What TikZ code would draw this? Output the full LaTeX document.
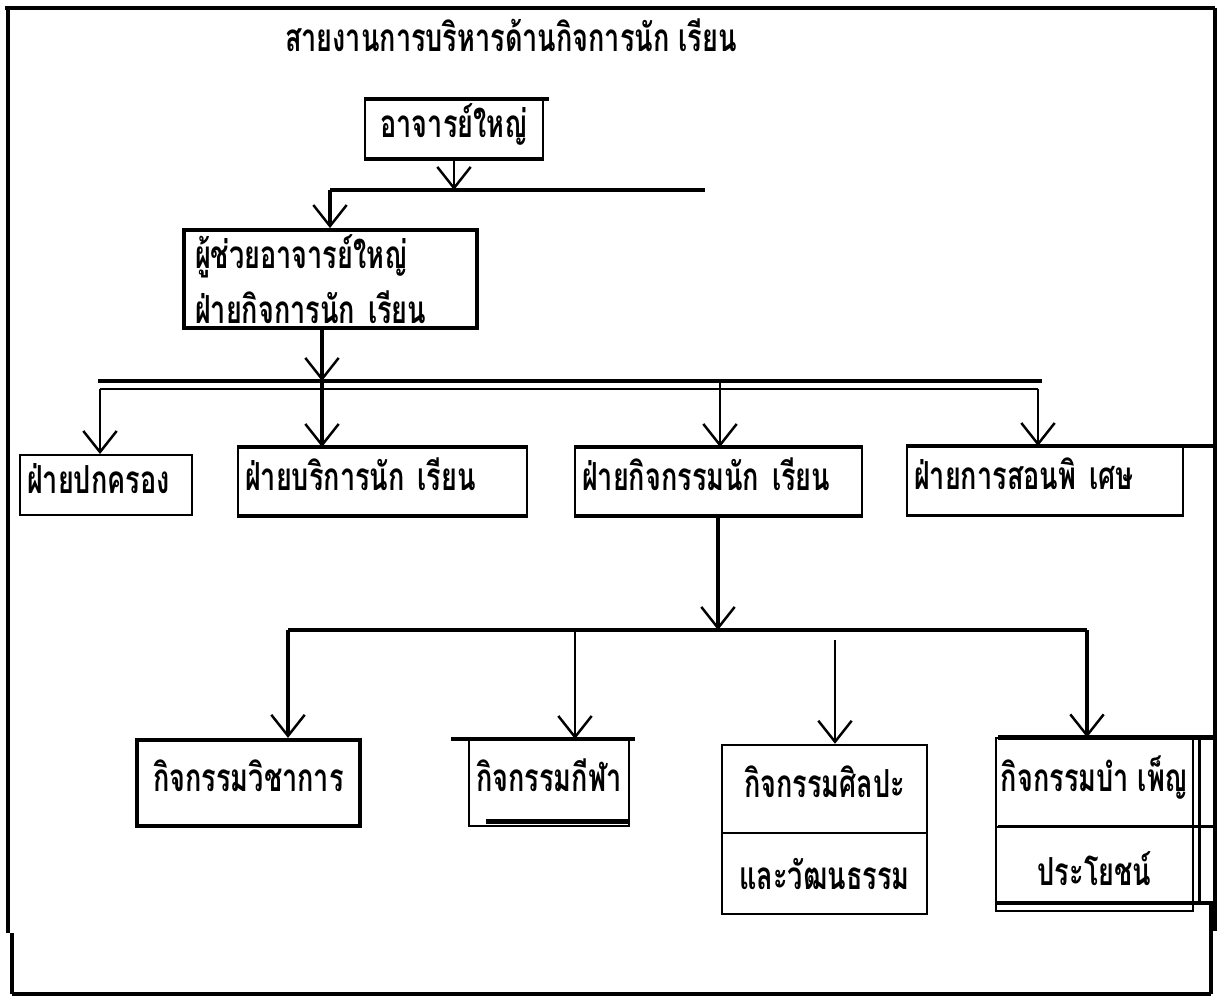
\documentclass[tikz,border=0pt]{standalone}
\usepackage{fontspec}
\newfontfamily\thai[Script=Thai,FakeStretch=0.7]{Loma}
\usetikzlibrary{arrows.meta,shapes.multipart}
\begin{document}
\begin{tikzpicture}[x=0.02cm,y=-0.02cm,
  font=\thai\bfseries\fontsize{22}{25}\selectfont,
  thk/.style={line width=2.6pt},
  med/.style={line width=1.7pt},
  thn/.style={line width=1.1pt},
  arr/.style={-{Straight Barb[length=12pt,width=19pt,line width=1.4pt]}},
  bx/.style={draw,line width=1.1pt,inner xsep=0.14cm,inner ysep=0pt,text height=16pt,text depth=6pt},
  sbox/.style={draw,line width=1.1pt,rectangle split,rectangle split parts=2,
     inner xsep=0.1cm,inner ysep=13.6pt,text height=16pt,text depth=6pt,align=center}]
\useasboundingbox (0,0) rectangle (1221,997);
% outer frame
\draw[line width=2.8pt] (5,8) -- (1215,8);
\draw[line width=2.8pt] (8,8) -- (8,933);
\draw[line width=2.8pt] (12,933) -- (12,994);
\draw[line width=2pt] (12,994) -- (1211,994);
\draw[line width=1.8pt] (1215,8) -- (1215,931);
\coordinate (frR) at (1215,0);
% title
\node (title) at (511,35) {สายงานการบริหารด้านกิจการนัก เรียน};
% boxes
\node[bx,minimum width=3.56cm,minimum height=1.16cm] (A) at (454,129) {อาจารย์ใหญ่};
\node[bx,line width=2.2pt,text width=5.42cm,align=left,minimum height=1.96cm,text height=,text depth=,inner xsep=0.22cm] (B) at (330.5,279) {ผู้ช่วยอาจารย์ใหญ่\\[6pt]ฝ่ายกิจการนัก เรียน};
\node[bx,text width=3.16cm,align=left,minimum height=1.2cm] (C1) at (106,485) {ฝ่ายปกครอง};
\node[bx,text width=5.5cm,align=left,minimum height=1.34cm] (C2) at (382.5,481.5) {ฝ่ายบริการนัก เรียน};
\node[bx,text width=5.46cm,align=left,minimum height=1.34cm] (C3) at (718.5,481.5) {ฝ่ายกิจกรรมนัก เรียน};
\node[bx,text width=5.24cm,align=left,minimum height=1.36cm] (C4) at (1045,481) {ฝ่ายการสอนพิ เศษ};
\node[bx,line width=2.4pt,minimum width=4.46cm,minimum height=1.72cm] (D1) at (248.5,783) {กิจกรรมวิชาการ};
\node[bx,minimum width=2.84cm,minimum height=1.72cm] (D2) at (549,783) {กิจกรรมกีฬา};
\node[sbox,minimum width=4.1cm] (D3) at (824.5,829.5) {กิจกรรมศิลปะ\nodepart{two}และวัฒนธรรม};
\node[sbox,minimum width=3.9cm] (D4) at (1094.5,824.5) {กิจกรรมบำ เพ็ญ\nodepart{two}ประโยชน์};
% thick box edges
\draw[thk] (A.north west) -- ([xshift=3pt]A.north east);
\draw[thk] (A.south west) -- (A.south east);
\draw[thk] (C2.north west) -- (C2.north east);
\draw[thk] (C2.south west) -- (C2.south east);
\draw[thk] (C3.north west) -- (C3.north east);
\draw[thk] (C3.south west) -- (C3.south east);
\draw[thk] (C4.north west) -- (C4.north west -| frR);
\draw[med] (C4.south west) -- (C4.south east);
\draw[thk] ([xshift=-10pt]D2.north west) -- ([xshift=3pt]D2.north east);
\draw[thk] ([xshift=10pt,yshift=3pt]D2.south west) -- ([yshift=3pt]D2.south east);
\draw[thk] ([xshift=2pt]D4.north west) -- (D4.north west -| frR);
\draw[med] ([xshift=2pt]D4.text split west) -- (D4.text split west -| frR);
\draw[line width=1.5pt] ([xshift=3pt]D4.north east) -- ([xshift=3pt,yshift=5pt]D4.south east);
\coordinate (brc) at (1211,994);
\draw[thk] ([yshift=5pt]D4.south west) -- ([yshift=5pt]D4.south west -| brc) -- (brc);
% bus 1
\coordinate (b1L) at (330,190);
\coordinate (b1R) at (705,190);
\draw[thk] (b1L) -- (b1R);
\draw[thn,arr] (A.south) -- (A.south |- b1L);
\draw[thk,arr] (b1L) -- (b1L |- B.north);
% bus 2
\coordinate (b2L) at (98,381);
\coordinate (b2R) at (1042,381);
\coordinate (b2m) at (322,381);
\coordinate (b2c) at (720,381);
\coordinate (b2aL) at (100,389);
\coordinate (b2aR) at (1038,389);
\draw[thk] (b2L) -- (b2R);
\draw[thn] (b2aL) -- (b2aR);
\draw[thk,arr] (B.south -| b2m) -- (b2m);
\draw[thk,arr] (b2m) -- (b2m |- C2.north);
\draw[thn,arr] (b2aL) -- (b2aL |- C1.north);
\draw[thn,arr] (b2c) -- (b2c |- C3.north);
\draw[thn,arr] (b2aR) -- (b2aR |- C4.north);
% bus 3
\coordinate (b3L) at (288,630);
\coordinate (b3R) at (1087,630);
\coordinate (b3m) at (718,630);
\coordinate (b3b) at (575,630);
\coordinate (d3s) at (835,640);
\draw[thk] (b3L) -- (b3R);
\draw[thk,arr] (C3.south -| b3m) -- (b3m);
\draw[thk,arr] (b3L) -- (b3L |- D1.north);
\draw[med,arr] (b3b) -- (b3b |- D2.north);
\draw[thn,arr] (d3s) -- (d3s |- D3.north);
\draw[thk,arr] (b3R) -- (b3R |- D4.north);
\end{tikzpicture}
\end{document}
